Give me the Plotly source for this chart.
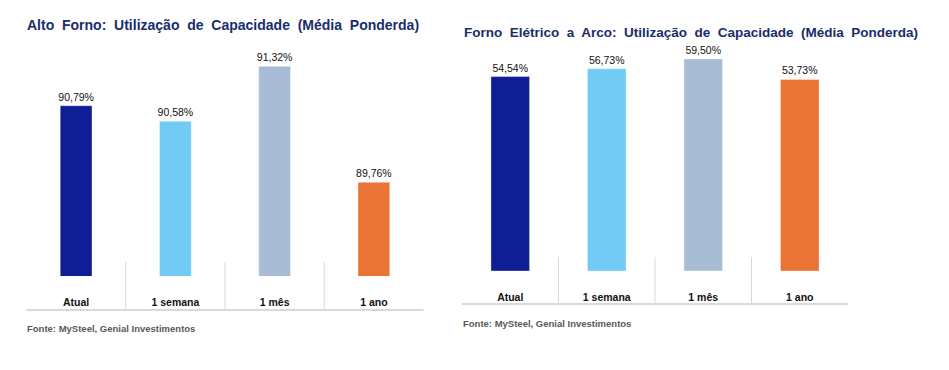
import plotly.graph_objects as go

# ---- data ----
categories = ["Atual", "1 semana", "1 mês", "1 ano"]
alto_forno = [90.79, 90.58, 91.32, 89.76]
forno_eletrico = [54.54, 56.73, 59.50, 53.73]
bar_colors = ["#0f1e94", "#72cbf4", "#a8bcd6", "#e97434"]
title_left = "Alto  Forno:  Utilização  de  Capacidade  (Média  Ponderda)"
title_right = "Forno  Elétrico  a  Arco:  Utilização  de  Capacidade  (Média  Ponderda)"
source_text = "Fonte: MySteel, Genial Investimentos"
left_axis_min = 88.5
left_axis_max = 91.54
right_axis_min = 0
right_axis_max = 62.0

W, H = 949, 370
FONT = "Liberation Sans, Arial, sans-serif"
TITLE_COLOR = "#192d6c"
GRID = "#d9d9d9"


def px_x(p):
    return p / W


def px_y(p):
    return (H - p) / H


fig = go.Figure()

label_font = dict(family=FONT, size=10.5, color="#111111")

fig.add_trace(go.Bar(
    x=categories, y=alto_forno, xaxis="x", yaxis="y",
    marker=dict(color=bar_colors, line=dict(color="rgba(255,255,255,0.35)", width=1)),
    width=0.32, texttemplate="%{y:.2f}%", textposition="outside", constraintext="none",
    textfont=label_font, cliponaxis=False, showlegend=False, hoverinfo="skip",
))
fig.add_trace(go.Bar(
    x=categories, y=forno_eletrico, xaxis="x2", yaxis="y2",
    marker=dict(color=bar_colors, line=dict(color="rgba(255,255,255,0.35)", width=1)),
    width=0.40, texttemplate="%{y:.2f}%", textposition="outside", constraintext="none",
    textfont=label_font, cliponaxis=False, showlegend=False, hoverinfo="skip",
))

# plot areas (pixel geometry)
L_x0, L_x1, L_top, L_bot = 26.5, 423.5, 50, 276
R_x0, R_x1, R_top, R_bot = 462, 848, 50, 271

tick_font = dict(family=FONT, size=10.5, color="#111111", weight="bold")
common_x = dict(type="category", showgrid=False, zeroline=False, showline=False,
                ticks="", tickfont=tick_font, ticklabelstandoff=18,
                range=[-0.5, len(categories) - 0.5], fixedrange=True)
common_y = dict(visible=False, showgrid=False, zeroline=False, fixedrange=True)

fig.update_layout(
    width=W, height=H, margin=dict(l=0, r=0, t=0, b=0),
    paper_bgcolor="white", plot_bgcolor="white",
    separators=",.",
    font=dict(family=FONT),
    xaxis=dict(domain=[px_x(L_x0), px_x(L_x1)], anchor="y", **common_x),
    yaxis=dict(domain=[px_y(L_bot), px_y(L_top)], anchor="x",
               range=[left_axis_min, left_axis_max], **common_y),
    xaxis2=dict(domain=[px_x(R_x0), px_x(R_x1)], anchor="y2", **common_x),
    yaxis2=dict(domain=[px_y(R_bot), px_y(R_top)], anchor="x2",
                range=[right_axis_min, right_axis_max], **common_y),
)

shapes = []
for xr, yr, top, bot, below_axis in [("x", "y", L_top, L_bot, 34), ("x2", "y2", R_top, R_bot, 33)]:
    h = bot - top
    y_axis_line = -below_axis / h
    y_sep_top = 14 / h
    shapes.append(dict(type="line", xref=f"{xr} domain", yref=f"{yr} domain",
                       x0=0, x1=1, y0=y_axis_line, y1=y_axis_line,
                       line=dict(color=GRID, width=2)))
    for i in range(len(categories) - 1):
        shapes.append(dict(type="line", xref=xr, yref=f"{yr} domain",
                           x0=i + 0.5, x1=i + 0.5, y0=y_axis_line, y1=y_sep_top,
                           line=dict(color=GRID, width=1)))
fig.update_layout(shapes=shapes)

annotations = [
    dict(text=f"<b>{title_left}</b>", x=px_x(25), y=px_y(25), xref="paper", yref="paper",
         xanchor="left", yanchor="middle", showarrow=False,
         font=dict(family=FONT, size=14, color=TITLE_COLOR)),
    dict(text=f"<b>{title_right}</b>", x=px_x(462), y=px_y(32), xref="paper", yref="paper",
         xanchor="left", yanchor="middle", showarrow=False,
         font=dict(family=FONT, size=13.5, color=TITLE_COLOR)),
    dict(text=f"<b>{source_text}</b>", x=px_x(25), y=px_y(328), xref="paper", yref="paper",
         xanchor="left", yanchor="middle", showarrow=False,
         font=dict(family=FONT, size=9.5, color="#595959")),
    dict(text=f"<b>{source_text}</b>", x=px_x(461), y=px_y(323), xref="paper", yref="paper",
         xanchor="left", yanchor="middle", showarrow=False,
         font=dict(family=FONT, size=9.5, color="#595959")),
]
fig.update_layout(annotations=annotations)

fig.write_html("out.html", config={"displayModeBar": False},
               post_script="document.body.style.margin='0';")
